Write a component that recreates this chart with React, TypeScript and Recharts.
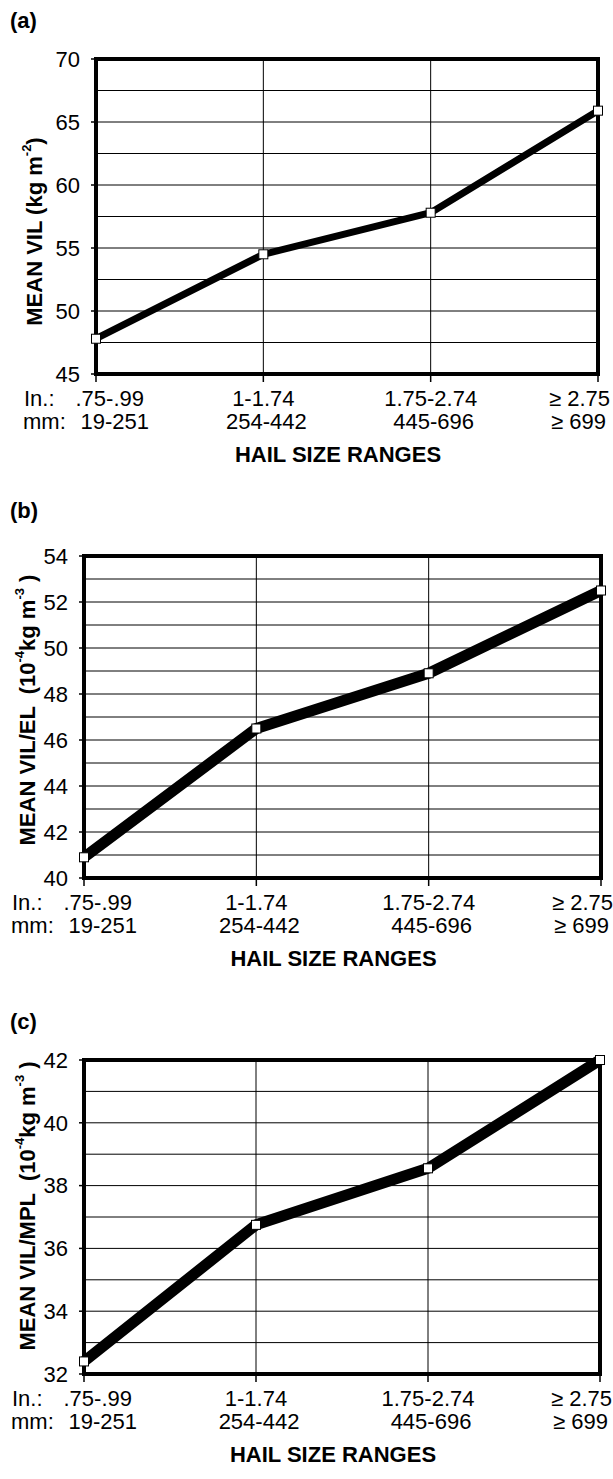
import React from 'react'
import {
  LineChart,
  Line,
  XAxis,
  YAxis,
  CartesianGrid,
  ReferenceArea,
  Label,
} from 'recharts'

const inchLabels = ['.75-.99', '1-1.74', '1.75-2.74', '≥ 2.75']
const mmLabels = ['19-251', '254-442', '445-696', '≥ 699']

const vilValues = [47.8, 54.5, 57.8, 65.9]
const vilElValues = [40.9, 46.5, 48.9, 52.5]
const vilMplValues = [32.4, 36.75, 38.55, 42.0]

const vilTicks = [45, 50, 55, 60, 65, 70]
const vilGrid = [47.5, 50, 52.5, 55, 57.5, 60, 62.5, 65, 67.5]
const vilElTicks = [40, 42, 44, 46, 48, 50, 52, 54]
const vilElGrid = [41, 42, 43, 44, 45, 46, 47, 48, 49, 50, 51, 52, 53]
const vilMplTicks = [32, 34, 36, 38, 40, 42]
const vilMplGrid = [33, 34, 35, 36, 37, 38, 39, 40, 41]

const FONT = '"Liberation Sans", Arial, Helvetica, sans-serif'

const SquareDot = (props: any) => {
  const { cx, cy, index } = props
  return (
    <rect
      key={`dot-${index}`}
      x={cx - 4.5}
      y={cy - 4.5}
      width={9}
      height={9}
      fill="#fff"
      stroke="#000"
      strokeWidth={1}
    />
  )
}

const HailTick = (props: any) => {
  const { x, y, payload } = props
  const i = payload.value as number
  const common = { fontFamily: FONT, fontSize: 22, fill: '#000' }
  if (i === 0) {
    return (
      <g>
        <text {...common} x={x - 72} y={y + 24} textAnchor="start">In.:</text>
        <text {...common} x={x + 48} y={y + 24} textAnchor="end">{inchLabels[0]}</text>
        <text {...common} x={x - 73} y={y + 47} textAnchor="start">mm:</text>
        <text {...common} x={x + 53} y={y + 47} textAnchor="end">{mmLabels[0]}</text>
      </g>
    )
  }
  if (i === 3) {
    return (
      <g>
        <text {...common} x={x + 12} y={y + 24} textAnchor="end">{inchLabels[3]}</text>
        <text {...common} x={x + 8} y={y + 47} textAnchor="end">{mmLabels[3]}</text>
      </g>
    )
  }
  return (
    <g>
      <text {...common} x={x} y={y + 24} textAnchor="middle">{inchLabels[i]}</text>
      <text {...common} x={x + 3} y={y + 47} textAnchor="middle">{mmLabels[i]}</text>
    </g>
  )
}

type PanelProps = {
  top: number
  height: number
  letter: string
  letterTop: number
  values: number[]
  domain: [number, number]
  ticks: number[]
  grid: number[]
  axisWidth: number
  marginTop: number
  marginRight: number
  marginBottom: number
  lineWidth: number
  yLabel: React.ReactNode
  yLabelX: number
  yLabelShift: number
}

const Panel = (p: PanelProps) => {
  const data = p.values.map((v, i) => ({ x: i, y: v }))
  return (
    <>
      <div
        style={{
          position: 'absolute',
          left: 10,
          top: p.letterTop,
          fontFamily: FONT,
          fontWeight: 'bold',
          fontSize: 22,
          lineHeight: '22px',
        }}
      >
        {p.letter}
      </div>
      <div style={{ position: 'absolute', left: 0, top: p.top }}>
        <LineChart
          width={613}
          height={p.height}
          data={data}
          margin={{ top: p.marginTop, right: p.marginRight, left: 0, bottom: p.marginBottom }}
        >
          <CartesianGrid
            stroke="#000"
            strokeWidth={1}
            horizontalValues={p.grid}
            verticalValues={[1, 2]}
          />
          <XAxis
            dataKey="x"
            type="number"
            domain={[0, 3]}
            ticks={[0, 1, 2, 3]}
            interval={0}
            height={100}
            axisLine={false}
            tickLine={{ stroke: '#000', strokeWidth: 1.5 }}
            tickSize={8}
            tickMargin={0}
            tick={<HailTick />}
          >
            <Label
              content={(props: any) => {
                const vb = props.viewBox
                return (
                  <text
                    x={vb.x + vb.width / 2 - 9}
                    y={vb.y + 88}
                    textAnchor="middle"
                    fontFamily={FONT}
                    fontWeight="bold"
                    fontSize={22}
                    fill="#000"
                  >
                    HAIL SIZE RANGES
                  </text>
                )
              }}
            />
          </XAxis>
          <YAxis
            type="number"
            domain={p.domain}
            ticks={p.ticks}
            interval={0}
            width={p.axisWidth}
            axisLine={false}
            tickLine={{ stroke: '#000', strokeWidth: 1.5 }}
            tickSize={5}
            tickMargin={11}
            tick={{ fontFamily: FONT, fontSize: 22, fill: '#000' }}
          >
            <Label
              content={(props: any) => {
                const vb = props.viewBox
                const cy = vb.y + vb.height / 2 + p.yLabelShift
                return (
                  <text
                    transform={`translate(${p.yLabelX},${cy}) rotate(-90)`}
                    textAnchor="middle"
                    dominantBaseline="central"
                    fontFamily={FONT}
                    fontWeight="bold"
                    fontSize={22}
                    fill="#000"
                    style={{ whiteSpace: 'pre' }}
                  >
                    {p.yLabel}
                  </text>
                )
              }}
            />
          </YAxis>
          <ReferenceArea
            x1={0}
            x2={3}
            y1={p.domain[0]}
            y2={p.domain[1]}
            fill="none"
            stroke="#000"
            strokeWidth={4}
            ifOverflow="visible"
          />
          <Line
            type="linear"
            dataKey="y"
            stroke="#000"
            strokeWidth={p.lineWidth}
            strokeLinejoin="round"
            dot={<SquareDot />}
            activeDot={false}
            isAnimationActive={false}
          />
        </LineChart>
      </div>
    </>
  )
}

export default function App() {
  return (
    <div
      style={{
        position: 'absolute',
        left: 0,
        top: 0,
        width: 613,
        height: 1479,
        background: '#fff',
        overflow: 'hidden',
      }}
    >
      <Panel
        top={0}
        height={480}
        letter="(a)"
        letterTop={10}
        values={vilValues}
        domain={[45, 70]}
        ticks={vilTicks}
        grid={vilGrid}
        axisWidth={96}
        marginTop={59}
        marginRight={15}
        marginBottom={6}
        lineWidth={7}
        yLabelX={34}
        yLabelShift={15}
        yLabel={
          <>
            MEAN VIL (kg m<tspan dy={-8} fontSize={13}>-2</tspan>
            <tspan dy={8}>)</tspan>
          </>
        }
      />
      <Panel
        top={490}
        height={500}
        letter="(b)"
        letterTop={500}
        values={vilElValues}
        domain={[40, 54]}
        ticks={vilElTicks}
        grid={vilElGrid}
        axisWidth={84}
        marginTop={66}
        marginRight={12}
        marginBottom={12}
        lineWidth={11}
        yLabelX={27}
        yLabelShift={-7}
        yLabel={
          <>
            {'MEAN VIL/EL  (10'}
            <tspan dy={-8} fontSize={13}>-4</tspan>
            <tspan dy={8}>kg m</tspan>
            <tspan dy={-8} fontSize={13}>-3</tspan>
            <tspan dy={8}> )</tspan>
          </>
        }
      />
      <Panel
        top={990}
        height={489}
        letter="(c)"
        letterTop={1011}
        values={vilMplValues}
        domain={[32, 42]}
        ticks={vilMplTicks}
        grid={vilMplGrid}
        axisWidth={84}
        marginTop={70}
        marginRight={13}
        marginBottom={5}
        lineWidth={11}
        yLabelX={27}
        yLabelShift={-11}
        yLabel={
          <>
            {'MEAN VIL/MPL  (10'}
            <tspan dy={-8} fontSize={13}>-4</tspan>
            <tspan dy={8}>kg m</tspan>
            <tspan dy={-8} fontSize={13}>-3</tspan>
            <tspan dy={8}> )</tspan>
          </>
        }
      />
    </div>
  )
}
